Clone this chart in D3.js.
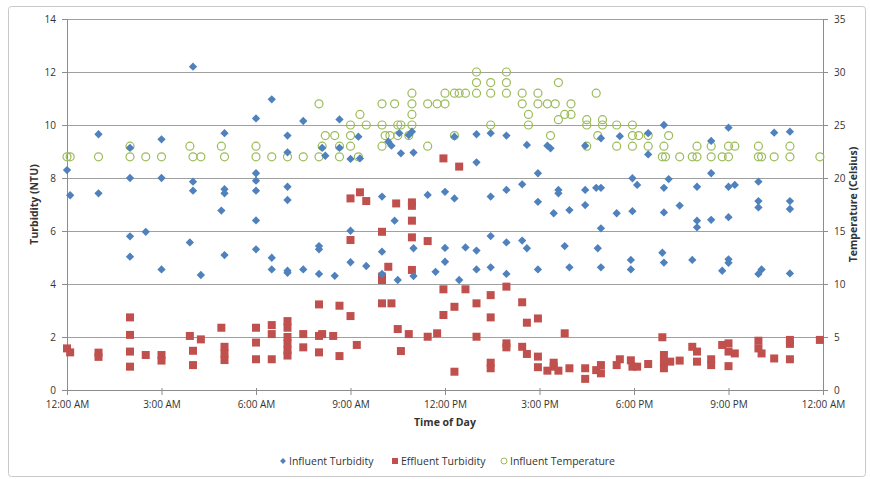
<!DOCTYPE html>
<html>
<head>
<meta charset="utf-8">
<script src="https://cdn.jsdelivr.net/npm/d3@7"></script>
<style>
  body { margin: 0; background: #fff; }
  text { font-family: "Open Sans", sans-serif; fill: #333; }
</style>
</head>
<body>
<div id="chart"></div>
<script>
// readings as [hour of day, value]
var influentTurbidity = [
  [0,8.3],[0.1,7.35],[1,9.65],[1,7.42],[2,9.14],[2,8.0],[2,5.8],[2,5.03],[2.5,5.97],
  [3,9.46],[3,8.0],[3,4.55],[3.9,5.57],[4,12.2],[4,7.86],[4,7.52],[4.25,4.34],[4.9,6.77],
  [5,9.69],[5,7.58],[5,7.42],[5,5.09],[6,10.25],[6,8.18],[6,7.9],[6,7.52],[6,6.4],[6,5.31],
  [6.5,10.97],[6.5,4.99],[6.5,4.55],[7,9.6],[7,8.97],[7,7.67],[7,7.17],[7,4.5],[7,4.42],
  [7.5,10.15],[7.5,4.55],[8,5.43],[8,5.31],[8,4.38],[8.1,9.14],[8.2,8.84],[8.5,4.31],
  [8.65,10.21],[8.65,9.14],[9,8.72],[9,6.01],[9,4.82],[9.25,9.56],[9.3,8.74],[9.5,4.68],
  [10,7.3],[10,5.22],[10,4.38],[10.2,9.37],[10.3,9.22],[10.4,6.39],[10.5,4.15],[10.55,9.69],
  [10.6,8.93],[10.85,9.62],[10.95,9.75],[11,8.96],[11,5.35],[11,4.3],[11.45,7.36],[11.7,4.46],
  [12,7.48],[12,5.36],[12,4.84],[12.3,9.56],[12.3,7.23],[12.45,4.15],[12.65,5.38],
  [13,9.65],[13,8.59],[13,5.26],[13,4.55],[13.45,9.69],[13.45,7.3],[13.45,5.81],[13.45,4.63],
  [13.95,9.6],[13.95,7.55],[13.95,5.57],[13.95,4.38],[14.45,7.76],[14.45,5.64],[14.6,9.25],[14.6,5.35],
  [14.95,8.18],[14.95,7.1],[14.95,4.55],[15.25,9.22],[15.35,9.12],[15.45,6.67],[15.6,7.55],[15.6,7.42],
  [15.8,5.43],[15.95,6.79],[15.95,4.63],[16.45,9.22],[16.45,7.55],[16.45,6.98],[16.8,7.63],[16.85,5.35],
  [16.95,9.5],[16.95,7.63],[16.95,6.1],[16.95,4.63],[17.45,6.67],[17.55,9.58],[17.9,4.91],[17.9,4.55],
  [17.95,7.99],[17.95,6.75],[18.1,7.74],[18.45,9.69],[18.45,8.89],[18.9,5.18],[18.95,10.0],[18.95,7.63],
  [18.95,6.7],[18.95,4.81],[19.1,7.96],[19.45,6.96],[19.85,4.91],[20,7.67],[20,6.39],[20,6.14],
  [20.45,9.4],[20.45,8.18],[20.45,6.42],[20.8,4.5],[21,9.9],[21,7.67],[21,6.52],[21,4.93],[21,4.8],
  [21.2,7.74],[21.95,7.86],[21.95,7.13],[21.95,6.89],[21.95,4.38],[22.05,4.55],[22.45,9.71],
  [22.95,9.75],[22.95,7.13],[22.95,6.83],[22.95,4.4]
];
var effluentTurbidity = [
  [0,1.57],[0.1,1.42],[1,1.41],[1,1.25],[2,2.74],[2,2.08],[2,1.45],[2,0.88],[2.5,1.32],
  [3,1.32],[3,1.11],[3.9,2.04],[4,1.48],[4,0.94],[4.25,1.91],[4.9,2.35],[5,1.63],[5,1.38],[5,1.13],
  [6,2.35],[6,1.79],[6,1.16],[6.5,2.45],[6.5,2.11],[6.5,1.16],[7,2.6],[7,2.35],[7,2.0],[7,1.75],
  [7,1.5],[7,1.3],[7.5,2.11],[7.5,1.61],[8,3.23],[8,2.04],[8,1.42],[8.1,2.11],[8.45,2.04],
  [8.65,3.18],[8.65,1.28],[9,7.23],[9,5.66],[9,2.79],[9.2,1.7],[9.3,7.46],[9.5,7.13],
  [10,5.97],[10,4.28],[10,4.15],[10,3.27],[10.2,4.65],[10.3,3.27],[10.45,7.04],[10.5,2.3],
  [10.6,1.47],[10.85,2.11],[10.95,7.08],[10.95,6.95],[10.95,6.39],[10.95,5.76],[10.95,4.53],
  [11.45,5.62],[11.45,2.01],[11.75,2.14],[11.95,8.74],[11.95,3.8],[11.95,2.83],[12.3,3.14],
  [12.3,0.69],[12.45,8.43],[12.65,3.8],[13,3.27],[13,2.01],[13.45,3.58],[13.45,2.74],[13.45,1.03],
  [13.45,0.82],[13.95,3.9],[13.95,1.76],[13.95,1.61],[14.45,3.31],[14.45,1.63],[14.6,2.54],[14.6,1.36],
  [14.95,2.7],[14.95,1.26],[14.95,0.86],[15.25,0.73],[15.45,1.03],[15.45,0.88],[15.6,0.73],[15.8,2.14],
  [15.95,0.82],[16.45,0.82],[16.45,0.42],[16.8,0.75],[16.95,0.94],[16.95,0.63],[17.45,0.94],[17.55,1.16],
  [17.9,1.12],[17.95,0.88],[18.1,0.88],[18.45,0.98],[18.9,1.99],[18.95,1.32],[18.95,1.03],[18.95,0.82],
  [19.15,1.07],[19.45,1.11],[19.85,1.63],[20,1.45],[20,1.07],[20.45,1.16],[20.45,0.94],[20.8,1.7],
  [21,1.76],[21,1.45],[21,0.9],[21.2,1.38],[21.95,1.86],[21.95,1.57],[22.05,1.38],[22.45,1.19],
  [22.95,1.89],[22.95,1.74],[22.95,1.16],[23.9,1.89]
];
var influentTemperature = [
  [0,22],[0.1,22],[1,22],[2,23],[2,22],[2.5,22],[3,22],[3.9,23],[4,22],[4.25,22],[4.9,23],[5,22],
  [6,23],[6,22],[6.5,22],[7,22],[7.5,22],[8,27],[8,22],[8.1,23],[8.2,24],[8.5,24],[8.65,23],[8.65,22],
  [9,25],[9,24],[9,23],[9.25,22],[9.3,26],[9.5,25],[10,27],[10,25],[10,23],[10.1,24],[10.25,24],
  [10.4,27],[10.5,25],[10.5,24],[10.6,25],[10.85,24],[10.95,28],[10.95,27],[10.95,26],[10.95,25],
  [11.45,27],[11.45,23],[11.75,27],[12,28],[12,27],[12.3,28],[12.3,24],[12.45,28],[12.65,28],
  [13,30],[13,29],[13,28],[13.45,29],[13.45,28],[13.45,25],[13.95,30],[13.95,29],[13.95,28],
  [14.45,28],[14.45,27],[14.65,26],[14.65,25],[14.95,28],[14.95,27],[15.25,27],[15.35,24],[15.5,27],
  [15.6,29],[15.6,25.5],[15.8,26],[16,27],[16,26],[16.5,25.5],[16.5,25],[16.5,23],[16.8,28],[16.85,24],
  [17,25.5],[17,25],[17.45,25],[17.45,23],[17.95,25],[17.95,24],[17.95,23],[18.15,24],[18.45,24],
  [18.45,23],[18.9,22],[18.95,23],[19,22],[19.1,24],[19.45,22],[19.85,22],[20,23],[20,22],
  [20.45,23],[20.45,22],[20.8,22],[21,23],[21,22],[21.2,23],[21.95,23],[21.95,22],[22.05,22],
  [22.45,22],[22.95,23],[22.95,22],[23.9,22]
];
var turbidityTicks = [0, 2, 4, 6, 8, 10, 12, 14];
var temperatureTicks = [0, 5, 10, 15, 20, 25, 30, 35];
var seriesNames = ["Influent Turbidity", "Effluent Turbidity", "Influent Temperature"];

var W = 870, H = 479;
var margin = {top: 19, right: 47, bottom: 89, left: 67},
    width = W - margin.left - margin.right,
    height = H - margin.top - margin.bottom;

var svg = d3.select("#chart").append("svg")
    .attr("width", W)
    .attr("height", H);

// outer chart border
svg.append("rect")
    .attr("x", 8.5).attr("y", 6.5)
    .attr("width", 857).attr("height", 470)
    .attr("rx", 3)
    .attr("fill", "none")
    .attr("stroke", "#c8c8c8");

var g = svg.append("g")
    .attr("transform", "translate(" + margin.left + "," + margin.top + ")");

var day0 = new Date(2000, 0, 1, 0, 0);
function toDate(h) { return new Date(day0.getTime() + h * 3600000); }

var x = d3.scaleTime()
    .domain([day0, toDate(24)])
    .range([0, width]);
var y = d3.scaleLinear().domain([0, 14]).range([height, 0]);
var y2 = d3.scaleLinear().domain([0, 35]).range([height, 0]);

// gridlines
g.append("g").selectAll("line")
  .data(turbidityTicks.slice(1))
  .enter().append("line")
    .attr("x1", 0).attr("x2", width)
    .attr("y1", function(d) { return Math.round(y(d)) + 0.5; })
    .attr("y2", function(d) { return Math.round(y(d)) + 0.5; })
    .attr("stroke", "#a0a0a0");

// axes
var xAxis = g.append("g")
    .attr("transform", "translate(0," + height + ")")
    .call(d3.axisBottom(x).ticks(d3.timeHour.every(3))
      .tickFormat(d3.timeFormat("%-I:%M %p")).tickSize(5).tickPadding(6));
var yAxis = g.append("g")
    .call(d3.axisLeft(y).tickValues(turbidityTicks).tickSize(5).tickPadding(6));
var yAxis2 = g.append("g")
    .attr("transform", "translate(" + width + ",0)")
    .call(d3.axisRight(y2).tickValues(temperatureTicks).tickSize(5).tickPadding(6));

[xAxis, yAxis, yAxis2].forEach(function(a) {
  a.select(".domain").attr("stroke", "#8c8c8c");
  a.selectAll(".tick line").attr("stroke", "#8c8c8c");
  a.selectAll("text").style("font-size", "10px").attr("fill", "#333");
});
xAxis.selectAll(".tick line").attr("y1", -2);

// axis titles
g.append("text")
    .attr("x", width / 2).attr("y", height + 36)
    .attr("text-anchor", "middle")
    .style("font-size", "10.5px").style("font-weight", "bold")
    .text("Time of Day");
svg.append("text")
    .attr("transform", "translate(38," + (margin.top + height / 2) + ") rotate(-90)")
    .attr("text-anchor", "middle")
    .style("font-size", "10.5px").style("font-weight", "bold")
    .text("Turbidity (NTU)");
svg.append("text")
    .attr("transform", "translate(857," + (margin.top + height / 2) + ") rotate(-90)")
    .attr("text-anchor", "middle")
    .style("font-size", "10.5px").style("font-weight", "bold")
    .text("Temperature (Celsius)");

var blue = "#4f81bd", red = "#c0504d", green = "#9bbb59";

// influent temperature - hollow circles
g.append("g").selectAll("circle")
  .data(influentTemperature)
  .enter().append("circle")
    .attr("cx", function(d) { return x(toDate(d[0])); })
    .attr("cy", function(d) { return y2(d[1]); })
    .attr("r", 4)
    .attr("fill", "none")
    .attr("stroke", green)
    .attr("stroke-width", 1.2);

// effluent turbidity - squares
g.append("g").selectAll("rect")
  .data(effluentTurbidity)
  .enter().append("rect")
    .attr("x", function(d) { return x(toDate(d[0])) - 4; })
    .attr("y", function(d) { return y(d[1]) - 4; })
    .attr("width", 8).attr("height", 8)
    .attr("fill", red);

// influent turbidity - diamonds
var diamond = d3.symbol().type(d3.symbolDiamond2).size(44);
g.append("g").selectAll("path")
  .data(influentTurbidity)
  .enter().append("path")
    .attr("d", diamond)
    .attr("transform", function(d) {
      return "translate(" + x(toDate(d[0])) + "," + y(d[1]) + ")";
    })
    .attr("fill", blue);

// legend
var legend = svg.append("g").attr("transform", "translate(0,461)");
var legendX = [283, 395, 504];
legend.append("path")
    .attr("d", d3.symbol().type(d3.symbolDiamond2).size(22))
    .attr("transform", "translate(" + legendX[0] + ",0)")
    .attr("fill", blue);
legend.append("rect")
    .attr("x", legendX[1] - 3).attr("y", -3).attr("width", 6).attr("height", 6)
    .attr("fill", red);
legend.append("circle")
    .attr("cx", legendX[2]).attr("cy", 0).attr("r", 3)
    .attr("fill", "none").attr("stroke", green);
legend.selectAll("text.lbl")
  .data(seriesNames)
  .enter().append("text")
    .attr("class", "lbl")
    .attr("x", function(d, i) { return legendX[i] + 6; })
    .attr("y", 4)
    .style("font-size", "10.5px")
    .text(function(d) { return d; });
</script>
</body>
</html>
